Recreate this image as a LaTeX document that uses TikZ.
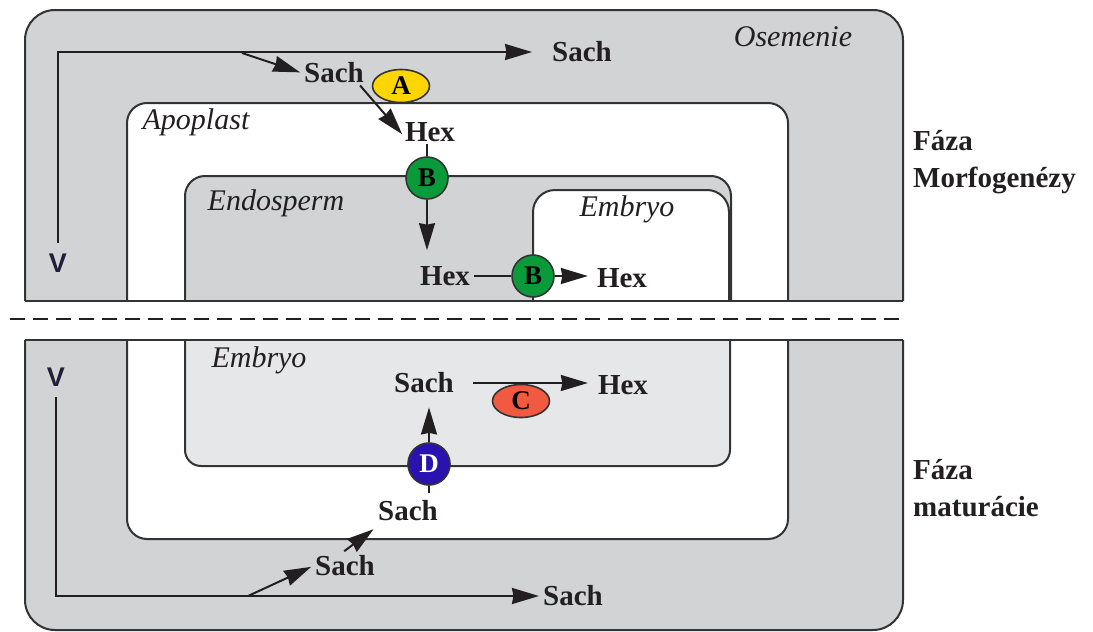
\documentclass[tikz,border=0pt]{standalone}
\usepackage{fontspec}
\setmainfont{Liberation Serif}
\newfontfamily\vfont{Liberation Sans}
\usetikzlibrary{arrows.meta,shapes.geometric}
\definecolor{seedgray}{HTML}{D1D3D4}
\definecolor{embgray}{HTML}{E6E7E8}
\definecolor{bordc}{HTML}{333333}
\definecolor{inkc}{HTML}{231F20}
\definecolor{enzA}{HTML}{FFD500}
\definecolor{enzB}{HTML}{0A9A3A}
\definecolor{enzC}{HTML}{F15A40}
\definecolor{enzD}{HTML}{2A12B0}
\definecolor{vcol}{HTML}{1F1F3A}
\tikzset{
  region/.style={draw=bordc, line width=2pt},
  lbl/.style={font=\fontsize{29}{34}\selectfont\bfseries, text=inkc, inner sep=2pt},
  reglbl/.style={font=\fontsize{30}{34}\selectfont\itshape, text=inkc, inner sep=0pt},
  vlbl/.style={font=\vfont\fontsize{27}{30}\selectfont\bfseries, text=vcol, inner sep=1pt},
  flow/.style={line width=2pt, draw=inkc},
  arr/.style={flow, -{Stealth[length=27pt,width=16pt,inset=1.5pt]}},
  enzcirc/.style={circle, draw=bordc, line width=1.6pt, minimum size=42pt, inner sep=0pt,
    font=\fontsize{27}{30}\selectfont\bfseries},
  enzoval/.style={ellipse, draw=bordc, line width=1.6pt, minimum width=57pt, minimum height=33pt,
    inner sep=0pt, font=\fontsize{27}{30}\selectfont\bfseries},
  phase/.style={font=\fontsize{29}{37}\selectfont\bfseries, text=inkc, align=left, anchor=west, inner sep=0pt}
}
\begin{document}
\begin{tikzpicture}[x=1pt,y=-1pt]
\useasboundingbox (0,0) rectangle (1093,632);

% ---------- top half: regions ----------
\filldraw[region, fill=seedgray, rounded corners=30pt] (25,301) -- (25,10) -- (903,10) -- (903,301);
\filldraw[region, fill=white, rounded corners=20pt] (127,301) -- (127,103) -- (788,103) -- (788,301);
\filldraw[region, fill=seedgray, rounded corners=20pt] (185,301) -- (185,176) -- (731,176) -- (731,301);
\filldraw[region, fill=white, rounded corners=22pt] (533,301) -- (533,190) -- (729,190) -- (729,301);
\draw[region] (25,301) -- (903,301);

% ---------- bottom half: regions ----------
\filldraw[region, fill=seedgray, rounded corners=30pt] (25,340) -- (25,630) -- (903,630) -- (903,340);
\filldraw[region, fill=white, rounded corners=20pt] (127,340) -- (127,539) -- (788,539) -- (788,340);
\filldraw[region, fill=embgray, rounded corners=16pt] (185,340) -- (185,466) -- (730,466) -- (730,340);
\draw[region] (25,340) -- (903,340);

% ---------- separator ----------
\coordinate (d1) at (10,319);
\coordinate (d2) at (905,319);
\draw[line width=2.5pt, draw=inkc, dash pattern=on 15pt off 8pt] (d1) -- (d2);

% ---------- region labels ----------
\node[reglbl] (osem) at (793,37) {Osemenie};
\node[reglbl] (apo) at (196,122) {Apoplast};
\node[reglbl] (endo) at (276,203) {Endosperm};
\node[reglbl] (emb1) at (627,209) {Embryo};
\node[reglbl] (emb2) at (259,360) {Embryo};

% ---------- top half: flow ----------
\node[vlbl] (v1) at (58,263) {V};
\node[lbl] (s1) at (582,52) {Sach};
\node[lbl] (s2) at (334,73) {Sach};
\node[enzoval, fill=enzA] (ea) at (401,86) {A};
\node[lbl] (h1) at (430,132) {Hex};
\node[enzcirc, fill=enzB] (b1) at (427,178) {B};
\node[lbl] (h2) at (445,276) {Hex};
\node[enzcirc, fill=enzB] (b2) at (533,276) {B};
\node[lbl] (h3) at (622,278) {Hex};

\draw[arr, shorten <=10pt, shorten >=18pt] (v1.north) |- (s1.west);
\coordinate (br1) at (242,53);
\draw[arr, shorten >=2pt] (br1) -- (s2.west);
\draw[arr, shorten <=0pt, shorten >=1pt] ([xshift=-6pt]s2.south east) -- ([yshift=-3pt]h1.west);
\draw[flow] (b1.north) -- (b1.north |- h1.south);
\draw[arr, shorten >=14pt] (b1.south) -- (b1.south |- h2.north);
\draw[flow, shorten <=2pt] (h2.east) -- (b2.west);
\draw[arr, shorten >=7pt] (b2.east) -- (b2.east -| h3.west);

% ---------- bottom half: flow ----------
\node[vlbl] (v2) at (56,377) {V};
\node[lbl] (s3) at (424,383) {Sach};
\node[lbl] (h4) at (623,385) {Hex};
\node[enzoval, fill=enzC] (ec) at (521,401) {C};
\node[enzcirc, fill=enzD, text=white] (ed) at (429,464) {D};
\node[lbl] (s4) at (408,511) {Sach};
\node[lbl] (s5) at (345,566) {Sach};
\node[lbl] (s6) at (573,596) {Sach};

\draw[arr, shorten <=17pt, shorten >=8pt] (s3.east) -- (s3.east -| h4.west);
\draw[flow, shorten >=6pt] (ed.south) -- (ed.south |- s4.north);
\draw[arr, shorten >=12pt] (ed.north) -- (ed.north |- s3.south);
\draw[arr, shorten <=4pt, shorten >=3pt] ([xshift=-4pt]s5.north) -- ([yshift=-4pt]s4.south west);
\coordinate (br2) at (248,596);
\draw[arr, shorten >=2pt] (br2) -- (s5.west);
\draw[arr, shorten <=10pt, shorten >=2pt] (v2.south) |- (s6.west);

% ---------- phase labels ----------
\node[phase] (ph1) at (913,162) {Fáza\\Morfogenézy};
\node[phase] (ph2) at (913,488) {Fáza\\maturácie};
\end{tikzpicture}
\end{document}
